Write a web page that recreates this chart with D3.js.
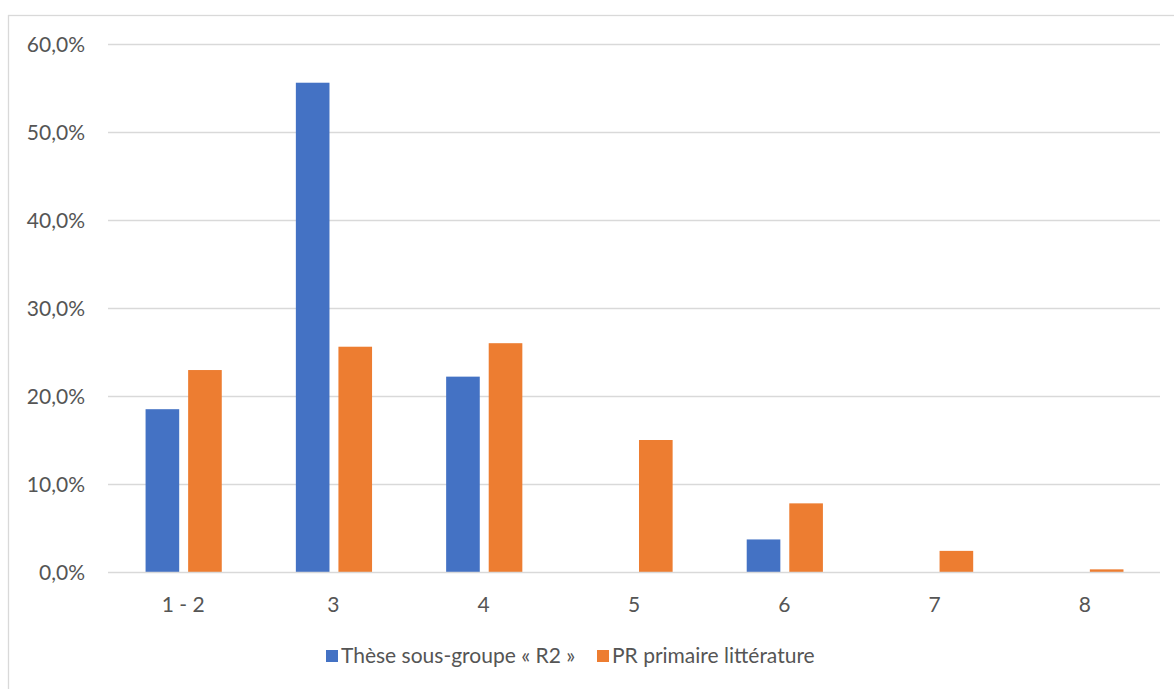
<!DOCTYPE html>
<html>
<head>
<meta charset="utf-8">
<script src="https://cdn.jsdelivr.net/npm/d3@7"></script>
<style>
  html, body { margin: 0; padding: 0; background: #ffffff; }
  svg { display: block; }
  text { font-family: Lato, "Open Sans", sans-serif; fill: #555555; }
</style>
</head>
<body>
<svg id="chart" width="1174" height="689"></svg>
<script>
// Grouped bar chart: distribution by category for two series
const categories = ["1 - 2", "3", "4", "5", "6", "7", "8"];
const seriesNames = ["Thèse sous-groupe « R2 »", "PR primaire littérature"];
const theseValues = [18.5, 55.6, 22.2, 0, 3.7, 0, 0];
const prValues = [22.95, 25.6, 26.0, 15.0, 7.8, 2.4, 0.3];
const yTicks = [0, 10, 20, 30, 40, 50, 60];
const colors = ["#4472C4", "#ED7D31"];

const svg = d3.select("#chart");
const W = 1174, H = 689;

// outer chart frame
svg.append("rect")
  .attr("x", 8.5).attr("y", 15.5)
  .attr("width", W + 10).attr("height", H + 10)
  .attr("fill", "none").attr("stroke", "#d9d9d9").attr("stroke-width", 1.3);

const plot = { left: 108, right: 1160, top: 44, bottom: 572 };

const x = d3.scaleBand().domain(categories).range([plot.left, plot.right]).padding(0);
const bw = x.bandwidth();
// the two bars of a group sit in the middle of each category slot
const xs = d3.scaleBand().domain([0, 1]).range([bw * 0.25, bw * 0.757]).paddingInner(0.21);
const y = d3.scaleLinear().domain([0, 60]).range([plot.bottom, plot.top]);

// gridlines
svg.append("g").selectAll("line").data(yTicks.filter(t => t > 0)).join("line")
  .attr("x1", plot.left).attr("x2", plot.right)
  .attr("y1", d => Math.round(y(d)) + 0.5).attr("y2", d => Math.round(y(d)) + 0.5)
  .attr("stroke", "#d9d9d9").attr("stroke-width", 1.3);

// y axis labels
const yAxis = d3.axisLeft(y).tickValues(yTicks)
  .tickFormat(d => d3.format(".1f")(d).replace(".", ",") + "%")
  .tickSize(0).tickPadding(0);
const gy = svg.append("g").attr("transform", `translate(${plot.left - 23},0)`).call(yAxis);
gy.select(".domain").remove();
gy.selectAll("text").style("font-size", "21px").attr("fill", "#555555").attr("dy", "0.35em");

// bars
const data = categories.map((c, i) => ({ cat: c, vals: [theseValues[i], prValues[i]] }));
const groups = svg.append("g").selectAll("g").data(data).join("g")
  .attr("transform", d => `translate(${x(d.cat)},0)`);
groups.selectAll("rect").data(d => d.vals.map((v, k) => ({ v, k }))).join("rect")
  .attr("x", d => xs(d.k))
  .attr("width", xs.bandwidth())
  .attr("y", d => y(d.v))
  .attr("height", d => y(0) - y(d.v))
  .attr("fill", d => colors[d.k]);

// x axis baseline
svg.append("line")
  .attr("x1", plot.left).attr("x2", plot.right)
  .attr("y1", plot.bottom + 0.5).attr("y2", plot.bottom + 0.5)
  .attr("stroke", "#d9d9d9").attr("stroke-width", 1.3);

// x axis labels
const xAxis = d3.axisBottom(x).tickSize(0).tickPadding(0);
const gx = svg.append("g").attr("transform", `translate(0,${plot.bottom + 33})`).call(xAxis);
gx.select(".domain").remove();
gx.selectAll("text").style("font-size", "21px").attr("fill", "#555555").attr("dy", "0.35em");

// legend
const legendItems = [
  { name: seriesNames[0], color: colors[0], x: 326 },
  { name: seriesNames[1], color: colors[1], x: 597 }
];
const lg = svg.append("g").selectAll("g").data(legendItems).join("g")
  .attr("transform", d => `translate(${d.x},650)`);
lg.append("rect").attr("width", 12).attr("height", 12).attr("fill", d => d.color);
lg.append("text").attr("x", 15).attr("y", 6).attr("dy", "0.35em")
  .style("font-size", "21px").text(d => d.name);
</script>
</body>
</html>
